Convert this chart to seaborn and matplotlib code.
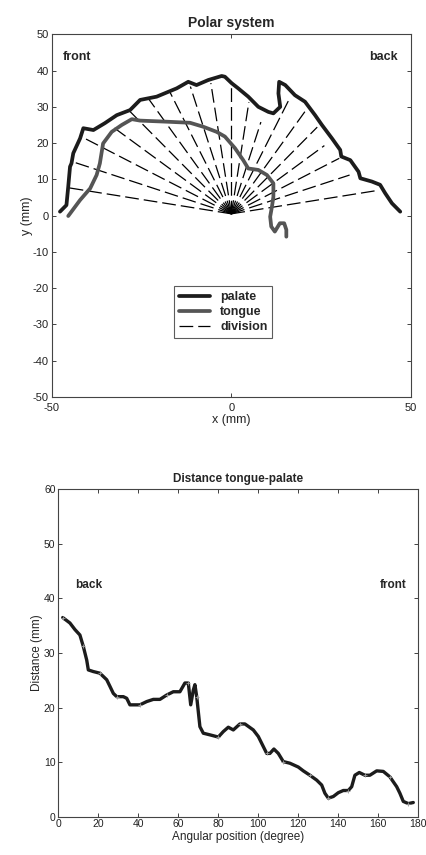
import numpy as np
import pandas as pd
import matplotlib
matplotlib.use('Agg')
import matplotlib.pyplot as plt
import seaborn as sns

# palate contour (mm)
palate_x = [-47.7, -45.9, -45.4, -44.9, -44.5, -44.0, -42.1, -41.2, -38.4, -35.2, -31.9, -28.2,
            -25.4, -20.8, -15.2, -12.0, -9.7, -6.4, -2.7, -1.8, 0.1, 1.9, 4.7, 7.5, 10.3, 11.7,
            13.6, 13.1, 13.3, 15.0, 17.7, 20.5, 23.3, 25.2, 28.0, 30.3, 30.6, 33.1, 35.4, 35.9,
            39.1, 41.4, 42.8, 44.7, 47.0]
palate_y = [1.1, 2.9, 8.0, 13.5, 14.4, 17.2, 21.3, 24.1, 23.6, 25.5, 27.7, 29.1,
            31.9, 32.8, 35.1, 36.9, 36.0, 37.4, 38.5, 38.3, 36.5, 35.1, 32.8, 30.0, 28.6, 28.2,
            30.0, 33.7, 36.9, 36.0, 33.2, 31.4, 27.7, 25.0, 21.3, 18.1, 16.3, 15.3, 12.1, 10.3,
            9.4, 8.5, 6.2, 3.4, 1.1]

# tongue contour (mm)
tongue_x = [-45.4, -42.1, -39.3, -37.5, -36.6, -35.7, -33.3, -30.5, -27.7, -25.4, -18.0, -11.5,
            -7.8, -4.1, -1.8, 1.0, 3.3, 4.7, 7.5, 9.9, 11.7, 11.7, 11.3, 10.8, 11.1, 12.1,
            13.5, 14.7, 15.3, 15.3]
tongue_y = [-0.1, 4.3, 7.5, 11.2, 14.4, 19.9, 23.1, 25.0, 26.6, 26.2, 25.9, 25.6,
            24.5, 23.1, 21.8, 18.6, 15.3, 13.0, 12.6, 11.2, 8.9, 5.2, 2.5, -0.3, -3.0, -4.4,
            -2.1, -2.1, -3.9, -5.8]

# division rays: angle (deg) and length (mm) from the origin
div_angle = [9, 18, 27, 36, 45, 54, 63, 72, 81, 90, 99, 108, 117, 126, 135, 144, 153, 162, 171]
div_len = [41.0, 34.6, 33.7, 32.0, 33.8, 34.8, 35.8, 26.6, 31.2, 35.0, 36.5, 36.9, 37.8, 39.1,
           40.2, 40.8, 45.4, 46.2, 45.9]
div_origin = (0.0, 0.5)

# distance tongue-palate
ang_pos = [2.2, 5.8, 8.3, 10.8, 12.5, 14.2, 15.0, 17.5, 20.8, 24.2, 25.8, 27.5, 29.2, 32.5, 34.2,
           35.8, 40.8, 44.2, 47.5, 50.8, 54.2, 57.5, 60.8, 63.3, 65.0, 66.2, 67.5, 68.3, 69.2,
           70.8, 72.5, 75.8, 80.0, 82.5, 85.0, 87.5, 90.8, 93.3, 97.5, 100.0, 104.2, 105.8,
           107.8, 110.0, 112.5, 115.8, 120.0, 122.5, 125.8, 129.2, 131.7, 133.3, 135.0, 137.5,
           140.0, 142.5, 145.0, 146.7, 148.3, 150.5, 153.3, 155.8, 159.2, 162.5, 165.8, 169.2,
           170.8, 172.5, 175.0, 177.5]
distance = [36.5, 35.5, 34.3, 33.3, 31.2, 28.7, 26.9, 26.6, 26.3, 25.1, 23.9, 22.6, 22.0, 22.0,
            21.7, 20.5, 20.5, 21.1, 21.5, 21.5, 22.3, 22.9, 22.9, 24.5, 24.5, 20.5, 23.2, 24.2,
            22.0, 16.5, 15.3, 15.0, 14.6, 15.6, 16.4, 15.9, 17.0, 17.0, 15.9, 14.7, 11.6, 11.6,
            12.4, 11.6, 10.1, 9.8, 9.1, 8.4, 7.6, 6.7, 5.8, 4.3, 3.4, 3.7,
            4.4, 4.8, 4.8, 5.5, 7.6, 8.1, 7.6, 7.6, 8.4, 8.3, 7.3, 5.5,
            4.3, 2.8, 2.4, 2.6]

sns.set_style("ticks")
plt.rcParams['font.family'] = ['Liberation Sans', 'DejaVu Sans']
plt.rcParams['axes.unicode_minus'] = False
plt.rcParams['xtick.direction'] = 'in'
plt.rcParams['ytick.direction'] = 'in'
plt.rcParams['xtick.top'] = True
plt.rcParams['ytick.right'] = True

fig = plt.figure(figsize=(4.26, 8.55), dpi=100)
ax1 = fig.add_axes([0.1214, 0.5357, 0.8434, 0.4242])
ax2 = fig.add_axes([0.1369, 0.0448, 0.845, 0.3829])

ink = '#1c1c1c'
grey = '#555555'
div_style = (0, (11, 4))

# --- polar system ---
palate = pd.DataFrame({'x': palate_x, 'y': palate_y})
tongue = pd.DataFrame({'x': tongue_x, 'y': tongue_y})

for a, r in zip(div_angle, div_len):
    t = np.deg2rad(a)
    ax1.plot([div_origin[0], div_origin[0] + r * np.cos(t)],
             [div_origin[1], div_origin[1] + r * np.sin(t)],
             color='black', lw=0.9, linestyle=div_style)
sns.lineplot(data=palate, x='x', y='y', sort=False, estimator=None, color=ink, lw=2.7, ax=ax1)
sns.lineplot(data=tongue, x='x', y='y', sort=False, estimator=None, color=grey, lw=2.7, ax=ax1)

ax1.set_xlim(-50, 50)
ax1.set_ylim(-50, 50)
ax1.set_xticks([-50, 0, 50])
ax1.set_yticks(range(-50, 51, 10))
ax1.set_title('Polar system', fontsize=10, fontweight='bold', pad=5)
ax1.set_xlabel('x (mm)', fontsize=9, labelpad=1)
ax1.set_ylabel('y (mm)', fontsize=9, labelpad=0)
ax1.text(-46.9, 43.7, 'front', fontsize=9, fontweight='bold', va='center', ha='left')
ax1.text(46.4, 43.7, 'back', fontsize=9, fontweight='bold', va='center', ha='right')

handles = [plt.Line2D([], [], color=ink, lw=2.7),
           plt.Line2D([], [], color=grey, lw=2.7),
           plt.Line2D([], [], color='black', lw=0.9, linestyle=div_style)]
leg = ax1.legend(handles, ['palate', 'tongue', 'division'], loc='center',
                 bbox_to_anchor=(0.477, 0.234), frameon=True, fancybox=False,
                 prop={'weight': 'bold', 'size': 9}, handlelength=2.5,
                 borderpad=0.4, labelspacing=0.25, handletextpad=0.8)
leg.get_frame().set_edgecolor('#333333')
leg.get_frame().set_linewidth(0.8)

# --- distance ---
dist = pd.DataFrame({'angle': ang_pos, 'distance': distance})
sns.lineplot(data=dist, x='angle', y='distance', sort=False, estimator=None, color=ink, lw=2.4,
             marker='+', markevery=4, markersize=3.5, markeredgecolor='#9a9a9a',
             markeredgewidth=0.6, ax=ax2)
ax2.set_xlim(0, 180)
ax2.set_ylim(0, 60)
ax2.set_xticks(range(0, 181, 20))
ax2.set_yticks(range(0, 61, 10))
ax2.set_title('Distance tongue-palate', fontsize=8.5, fontweight='bold', pad=5)
ax2.set_xlabel('Angular position (degree)', fontsize=8.5, labelpad=1)
ax2.set_ylabel('Distance (mm)', fontsize=8.5, labelpad=1)
ax2.text(8.3, 42.5, 'back', fontsize=8.5, fontweight='bold', va='center', ha='left')
ax2.text(173.9, 42.5, 'front', fontsize=8.5, fontweight='bold', va='center', ha='right')

for ax in (ax1, ax2):
    ax.tick_params(labelsize=8, length=3, width=0.6, colors='#222222', pad=2)
    for s in ax.spines.values():
        s.set_color('#444444')
        s.set_linewidth(0.8)
ax1.tick_params(axis='x', pad=4)
ax2.tick_params(labelsize=7.5)

fig.savefig('out.png', dpi=100)
